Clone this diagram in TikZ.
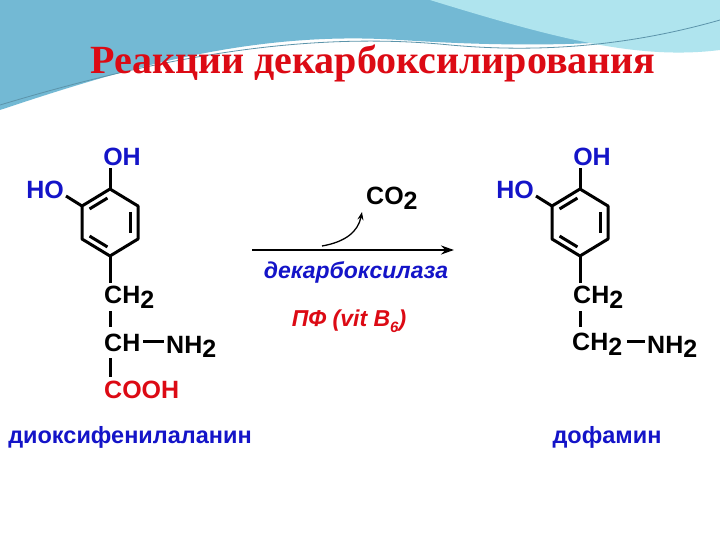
\documentclass[tikz,border=0pt]{standalone}
\usepackage{fontspec}
\usetikzlibrary{calc,arrows.meta}
\setmainfont{Liberation Sans}
\newfontfamily\titlefont{Liberation Serif}
\definecolor{cblue}{RGB}{20,20,200}
\definecolor{cred}{RGB}{220,10,20}
\definecolor{wave1}{RGB}{115,185,212}
\definecolor{wave2}{RGB}{175,228,238}
\begin{document}
\begin{tikzpicture}[x=1pt,y=-1pt,
  bond/.style={line width=3pt,black},
  lbl/.style={font=\bfseries\fontsize{25}{25}\selectfont,inner sep=0pt},
  blbl/.style={lbl,text=cblue},
  rlbl/.style={lbl,text=cred},
  nmlbl/.style={font=\bfseries\fontsize{23.5}{23.5}\selectfont,inner sep=0pt,text=cblue}]
\useasboundingbox (0,0) rectangle (720,540);
\fill[white] (0,0) rectangle (720,540);
% background waves
\fill[wave1] (0,0) -- (720,0) -- (720,30) .. controls (600,50) and (480,45) .. (400,40) .. controls (250,30) and (120,70) .. (0,110) -- cycle;
\fill[wave2] (430,0) -- (720,0) -- (720,50) .. controls (640,60) and (560,40) .. (430,0) -- cycle;
\draw[wave1!80!black,line width=0.8pt] (0,105) .. controls (150,60) and (300,30) .. (450,45) .. controls (560,55) and (650,40) .. (720,20);
\node[font=\titlefont\bfseries\fontsize{40}{40}\selectfont,text=cred,inner sep=0pt] (title) at (373,63) {Реакции декарбоксилирования};
% rings
\foreach \dx/\mol in {0/L,470/R}{
\begin{scope}[xshift=\dx]
\coordinate (\mol t) at (110,189);
\coordinate (\mol ur) at (138,206);
\coordinate (\mol lr) at (138,239);
\coordinate (\mol b) at (110,256);
\coordinate (\mol ll) at (82,239);
\coordinate (\mol ul) at (82,206);
\draw[bond,line join=round] (\mol t)--(\mol ur)--(\mol lr)--(\mol b)--(\mol ll)--(\mol ul)--cycle;
\draw[bond] ($(\mol t)!0.18!(\mol ul)+(2.5,6)$) -- ($(\mol t)!0.82!(\mol ul)+(2.5,6)$);
\draw[bond] (130,212) -- (130,233);
\draw[bond] ($(\mol b)!0.18!(\mol ll)+(2.5,-6)$) -- ($(\mol b)!0.82!(\mol ll)+(2.5,-6)$);
\node[blbl] (\mol oh) at (122,157) {OH};
\node[blbl] (\mol ho) at (45,190) {HO};
\draw[bond] (\mol t) -- (110,168);
\draw[bond] (\mol ul) -- (66,196);
\draw[bond] (\mol b) -- (110,283);
\end{scope}}
% left chain
\node[lbl,anchor=west] (Lch2) at (104,297) {CH\raisebox{-0.35ex}{2}};
\draw[bond] (110,311) -- (110,327);
\node[lbl,anchor=west] (Lch) at (104,343) {CH};
\draw[bond] (143,341) -- (164,341);
\node[lbl,anchor=west] (Lnh2) at (166,347) {NH\raisebox{-0.35ex}{2}};
\draw[bond] (110,358) -- (110,377);
\node[rlbl,anchor=west] (Lcooh) at (104,390) {COOH};
\node[nmlbl] (Lname) at (130,437) {диоксифенилаланин};
% right chain
\node[lbl,anchor=west] (Rch2) at (573,297) {CH\raisebox{-0.35ex}{2}};
\draw[bond] (580,311) -- (580,327);
\node[lbl,anchor=west] (Rch2b) at (572,344) {CH\raisebox{-0.35ex}{2}};
\draw[bond] (627,341) -- (645,341);
\node[lbl,anchor=west] (Rnh2) at (647,347) {NH\raisebox{-0.35ex}{2}};
\node[nmlbl] (Rname) at (607,437) {дофамин};
% arrow
\coordinate (a1) at (252,250);
\coordinate (a2) at (454,250);
\draw[line width=2.2pt,-{Stealth[length=13pt,width=9pt]}] (a1) -- (a2);
\node[lbl,anchor=west] (co2) at (366,198) {CO\raisebox{-0.35ex}{2}};
\coordinate (c1) at (322,246);
\draw[line width=1.3pt,-{Stealth[length=8pt,width=6pt]}] (c1) .. controls (345,242) and (358,232) .. (362,212);
\node[font=\bfseries\itshape\fontsize{23}{23}\selectfont,text=cblue,inner sep=0pt] (enz) at (356,272) {декарбоксилаза};
\node[font=\bfseries\itshape\fontsize{23}{23}\selectfont,text=cred,inner sep=0pt] (pf) at (349,321) {ПФ (vit B\raisebox{-0.5ex}{\fontsize{15}{15}\selectfont 6})};
\end{tikzpicture}
\end{document}
